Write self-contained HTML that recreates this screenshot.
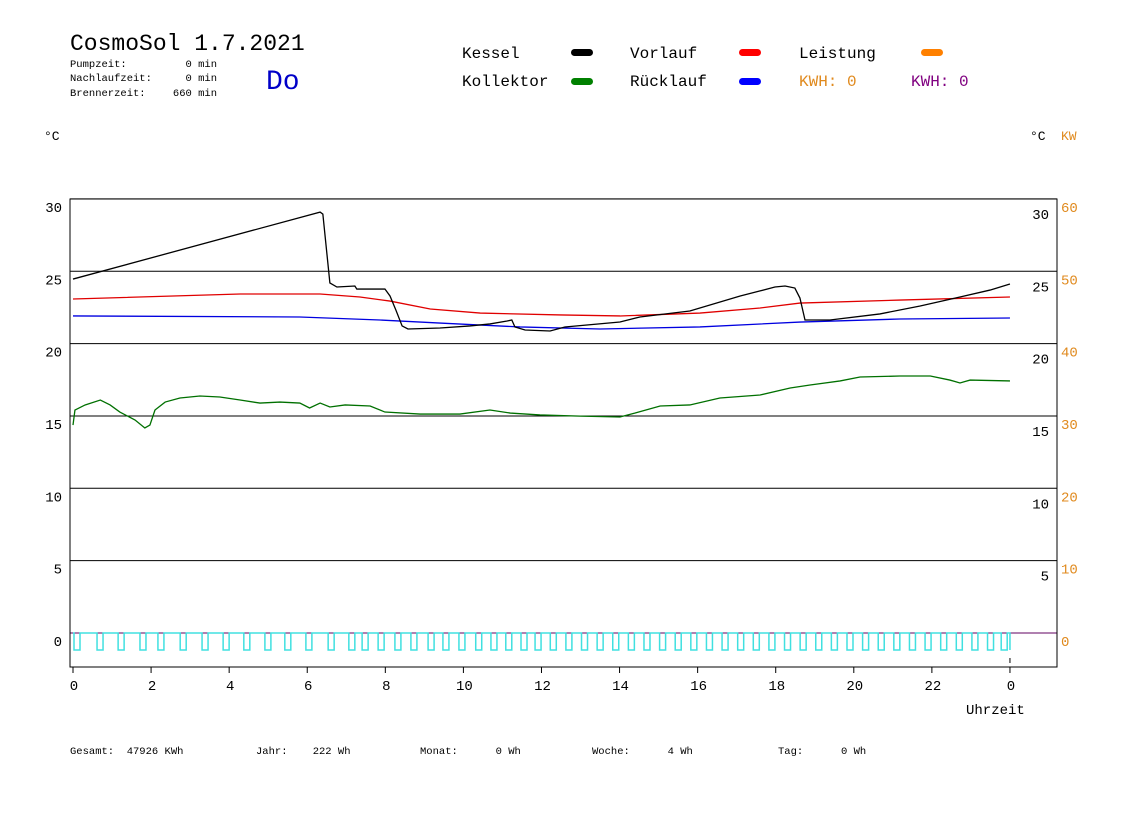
<!DOCTYPE html>
<html><head><meta charset="utf-8"><style>
body{margin:0;background:#fff;}
svg text{font-family:"Liberation Mono","DejaVu Sans Mono",monospace;white-space:pre;}
</style></head><body>
<svg id="chart" width="1148" height="812" viewBox="0 0 1148 812" xmlns="http://www.w3.org/2000/svg">
<rect width="1148" height="812" fill="#fff"/>
<text x="70" y="50" font-size="23" fill="#000">CosmoSol 1.7.2021</text>
<g font-size="10.5" fill="#000">
<text x="70" y="67">Pumpzeit:</text><text x="217" y="67" text-anchor="end">0 min</text>
<text x="70" y="81">Nachlaufzeit:</text><text x="217" y="81" text-anchor="end">0 min</text>
<text x="70" y="96">Brennerzeit:</text><text x="217" y="96" text-anchor="end">660 min</text>
</g>
<text x="266" y="89" font-size="28" fill="#0000c8">Do</text>
<g font-size="16">
<text x="462" y="58">Kessel</text>
<rect x="571" y="49" width="22" height="7" rx="3.5" fill="#000"/>
<text x="462" y="86">Kollektor</text>
<rect x="571" y="78" width="22" height="7" rx="3.5" fill="#008000"/>
<text x="630" y="58">Vorlauf</text>
<rect x="739" y="49" width="22" height="7" rx="3.5" fill="#f00"/>
<text x="630" y="86">Rücklauf</text>
<rect x="739" y="78" width="22" height="7" rx="3.5" fill="#00f"/>
<text x="799" y="58">Leistung</text>
<rect x="921" y="49" width="22" height="7" rx="3.5" fill="#ff8000"/>
<text x="799" y="86" fill="#e08a1e">KWH: 0</text>
<text x="911" y="86" fill="#800080">KWH: 0</text>
</g>
<text x="44" y="140" font-size="13">°C</text>
<text x="1030" y="140" font-size="13">°C</text>
<text x="1061" y="140" font-size="13" fill="#e08a1e">KW</text>
<g id="grid"></g>
<g id="series"></g>
<rect x="70" y="199" width="987" height="468" fill="none" stroke="#000" stroke-width="1"/>
<g id="axes" font-size="14"></g>
<text x="966" y="714" font-size="14">Uhrzeit</text>
<g font-size="10.5">
<text x="70" y="754" xml:space="preserve">Gesamt:  47926 KWh</text>
<text x="256" y="754" xml:space="preserve">Jahr:    222 Wh</text>
<text x="420" y="754" xml:space="preserve">Monat:      0 Wh</text>
<text x="592" y="754" xml:space="preserve">Woche:      4 Wh</text>
<text x="778" y="754" xml:space="preserve">Tag:      0 Wh</text>
</g>
</svg>
<script>
const yTicks=[0,5,10,15,20,25,30];
const kwTicks=[0,10,20,30,40,50,60];
const xTickLabels=[0,2,4,6,8,10,12,14,16,18,20,22,0];
const kesselH=[0,6.33,6.40,6.58,6.76,7.22,7.27,7.99,8.12,8.27,8.43,8.58,9.40,10.17,10.68,11.12,11.24,11.32,11.58,12.22,12.60,14.01,14.52,15.80,17.09,17.60,17.98,18.24,18.49,18.62,18.75,19.39,20.67,21.70,22.72,23.49,24.0];
const kesselT=[24.46,29.09,28.95,24.19,23.91,23.98,23.77,23.77,23.29,22.32,21.22,21.01,21.08,21.22,21.36,21.56,21.63,21.15,20.94,20.87,21.15,21.49,21.84,22.25,23.29,23.64,23.91,23.98,23.84,23.15,21.63,21.63,22.05,22.60,23.22,23.70,24.12];
const vorlaufH=[0,4.28,6.33,7.35,8.12,9.15,10.43,12.48,14.01,16.06,17.60,18.62,21.18,24.0];
const vorlaufT=[23.08,23.43,23.43,23.22,22.94,22.39,22.11,21.98,21.91,22.11,22.46,22.80,23.01,23.22];
const ruecklaufH=[0,5.81,7.86,9.40,11.45,13.50,16.06,18.62,21.18,24.0];
const ruecklaufT=[21.91,21.84,21.63,21.42,21.15,21.01,21.15,21.49,21.70,21.77];
const kollektorH=[0,0.05,0.31,0.70,0.95,1.20,1.59,1.84,1.97,2.10,2.36,2.74,3.25,3.76,4.28,4.79,5.30,5.81,6.06,6.33,6.58,6.97,7.61,7.99,8.89,9.91,10.68,11.20,11.96,12.99,14.01,14.40,15.04,15.80,16.57,17.60,18.37,18.88,19.65,20.16,21.18,21.96,22.46,22.72,22.98,24.0];
const kollektorT=[14.37,15.41,15.76,16.10,15.76,15.27,14.72,14.17,14.37,15.41,15.96,16.24,16.38,16.31,16.10,15.89,15.96,15.89,15.55,15.89,15.62,15.76,15.69,15.27,15.13,15.13,15.41,15.20,15.07,14.99,14.93,15.20,15.69,15.76,16.24,16.45,16.93,17.14,17.42,17.69,17.76,17.76,17.48,17.28,17.48,17.42];
const pulseH=[0.0,0.59,1.13,1.69,2.15,2.72,3.28,3.82,4.35,4.89,5.40,5.94,6.51,7.04,7.38,7.79,8.22,8.63,9.07,9.45,9.86,10.29,10.68,11.06,11.45,11.81,12.2,12.6,13.0,13.4,13.8,14.2,14.6,15.0,15.4,15.8,16.2,16.6,17.0,17.4,17.8,18.2,18.6,19.0,19.4,19.8,20.2,20.6,21.0,21.4,21.8,22.2,22.6,23.0,23.4,23.75];
const NS='http://www.w3.org/2000/svg';
const X=h=>73+h*39.04;
const Y=t=>633-t*14.47;
function mk(tag,attrs,parent){const e=document.createElementNS(NS,tag);for(const k in attrs)e.setAttribute(k,attrs[k]);parent.appendChild(e);return e;}
const grid=document.getElementById('grid'),axes=document.getElementById('axes'),ser=document.getElementById('series');
yTicks.forEach((t,i)=>{
 const l=mk('line',{x1:70,x2:1057,y1:Y(t),y2:Y(t),stroke:'#000','stroke-width':1},grid);
 
 
 const a=mk('text',{x:62,y:Y(t)+13,'text-anchor':'end'},axes);a.textContent=t;
 
 
 if(t>0){const b=mk('text',{x:1049,y:Y(t)+20,'text-anchor':'end'},axes);b.textContent=t;
 
 }
 const c=mk('text',{x:1061,y:Y(t)+13,fill:'#e08a1e'},axes);c.textContent=kwTicks[i];
 
 
});
xTickLabels.forEach((v,i)=>{
 const x=X(i*2);
 mk('line',{x1:x,x2:x,y1:667,y2:673,stroke:'#000'},axes);
 const t=mk('text',{x:x+1,y:690,'text-anchor':'middle'},axes);t.textContent=v;
 
 
});
mk('line',{x1:X(24),x2:X(24),y1:658,y2:663,stroke:'#000'},axes);
function line(H,T,color,name){
 const p=mk('polyline',{points:H.map((h,i)=>X(h)+','+Y(T[i])).join(' '),fill:'none',stroke:color,'stroke-width':1.3},ser);
 
 
}
line(vorlaufH,vorlaufT,'#e00000','vorlauf-line');
line(ruecklaufH,ruecklaufT,'#0000e0','ruecklauf-line');
line(kollektorH,kollektorT,'#007000','kollektor-line');
line(kesselH,kesselT,'#000','kessel-line');
mk('line',{x1:70,x2:1057,y1:Y(0),y2:Y(0),stroke:'#600060'},ser);
let d='M'+X(0)+','+Y(0);
pulseH.forEach(h=>{const x1=X(h)+1,x2=X(h)+7;d+=` L${x1},${Y(0)} L${x1},650 L${x2},650 L${x2},${Y(0)}`;});
d+=` L${X(24)},${Y(0)} L${X(24)},650`;
const pp=mk('path',{d:d,fill:'none',stroke:'#40e0e0','stroke-width':1.5},ser);


</script>
</body></html>
